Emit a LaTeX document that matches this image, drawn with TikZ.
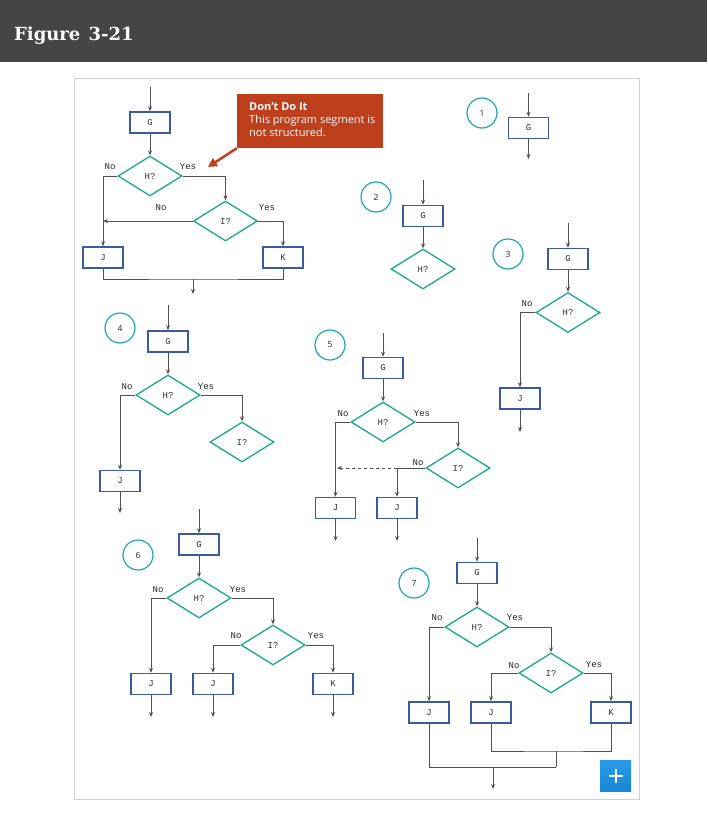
\documentclass[tikz,border=0pt]{standalone}
\usepackage{fontspec}
\setmainfont{Open Sans}
\newfontfamily\monof{Liberation Mono}
\newfontfamily\titlef{DejaVu Serif}
\usetikzlibrary{shapes.geometric,arrows.meta}
\definecolor{hdr}{HTML}{454545}
\definecolor{boxc}{HTML}{3C5AA0}
\definecolor{dia}{HTML}{19A98A}
\definecolor{circ}{HTML}{1FA3B8}
\definecolor{callc}{HTML}{BE3F1C}
\definecolor{linec}{HTML}{505050}
\definecolor{panel}{HTML}{D0D0D0}
\definecolor{plusc}{HTML}{1786D6}
\definecolor{plustop}{HTML}{2A9BE8}
\begin{document}
\begin{tikzpicture}[x=1pt,y=-1pt,
 proc/.style={draw=boxc,line width=1.5pt,fill=white,minimum width=40pt,minimum height=21pt,inner sep=0pt,font=\monof\fontsize{9}{9}\selectfont,text=black!80},
 dec/.style={diamond,draw=dia,line width=1.3pt,aspect=1.6,minimum width=64pt,minimum height=40pt,inner sep=0pt,font=\monof\fontsize{9}{9}\selectfont,text=black!80},
 num/.style={circle,draw=circ,line width=1.2pt,minimum size=30pt,inner sep=0pt,font=\fontsize{8.5}{8.5}\selectfont,text=black!85},
 conn/.style={draw=linec,line width=0.9pt},
 arr/.style={conn,-{Stealth[length=5pt,width=4pt]}},
 lbl/.style={font=\monof\fontsize{9}{9}\selectfont,text=black!85,inner sep=0pt},
]
\useasboundingbox (0,0) rectangle (707,814);
\fill[white] (0,0) rectangle (707,814);
\fill[hdr] (0,0) rectangle (707,62);
\node[anchor=base west,text=white,inner sep=0pt,font=\titlef\bfseries\fontsize{18}{18}\selectfont] (title) at (14,40) {Figure\hspace{0.45em}3-21};
\draw[panel,fill=white] (74,78) rectangle (639,799);

% ---------- segment "Don't do it"
\coordinate (a0) at (150,87);
\node[proc] (ag) at (150,122.5) {G};
\node[dec] (ah) at (150,176) {H?};
\node[dec] (ai) at (225.5,221) {I?};
\node[proc] (aj) at (103,257.5) {J};
\node[proc] (ak) at (283,257.5) {K};
\coordinate (am) at (193,279);
\coordinate (ae) at (193,294);
\draw[arr] (a0) -- (ag);
\draw[arr] (ag) -- (ah);
\draw[arr] (ah.west) -| (aj.north);
\draw[arr] (ah.east) -| (ai.north);
\draw[arr] (ai.west) -- (ai.west -| aj.north);
\draw[arr] (ai.east) -| (ak.north);
\draw[conn] (aj.south) |- (am) -| (ak.south);
\draw[arr] (am) -- (ae);
\node[lbl] (al1) at (110,167) {No};
\node[lbl] (al2) at (188,167) {Yes};
\node[lbl] (al3) at (161,208) {No};
\node[lbl] (al4) at (267,208) {Yes};

% callout
\coordinate (tip) at (208,167);
\node[fill=callc,minimum width=146pt,minimum height=54pt,inner sep=0pt] (call) at (310,121) {};
\draw[callc,line width=2.5pt,-{Triangle[length=9pt,width=9pt]}] (call.south west) -- (tip);
\node[anchor=north west,text=white,align=left,inner sep=0pt,font=\fontsize{11}{13}\selectfont] (callt) at (249,102) {\textbf{Don’t Do It}\\This program segment is\\not structured.};

% ---------- 1
\node[num] (n1) at (482,113) {1};
\coordinate (b0) at (528.5,93);
\node[proc] (bg) at (528.5,128) {G};
\coordinate (b1) at (528.5,159);
\draw[arr] (b0) -- (bg);
\draw[arr] (bg) -- (b1);

% ---------- 2
\node[num] (n2) at (376,197) {2};
\coordinate (c0) at (423,180);
\node[proc] (cg) at (423,216) {G};
\node[dec] (ch) at (423,269) {H?};
\draw[arr] (c0) -- (cg);
\draw[arr] (cg) -- (ch);

% ---------- 3
\node[num] (n3) at (508,254) {3};
\coordinate (d0) at (568,223);
\node[proc] (dg) at (568,259) {G};
\node[dec] (dh) at (568,312.5) {H?};
\node[proc] (dj) at (520,398.5) {J};
\coordinate (d1) at (520,432);
\draw[arr] (d0) -- (dg);
\draw[arr] (dg) -- (dh);
\draw[arr] (dh.west) -| (dj.north);
\draw[arr] (dj) -- (d1);
\node[lbl] (dl1) at (527,304) {No};

% ---------- 4
\node[num] (n4) at (120,328) {4};
\coordinate (e0) at (168,305);
\node[proc] (eg) at (168,341.5) {G};
\node[dec] (eh) at (168,395) {H?};
\node[dec] (ei) at (242,442) {I?};
\node[proc] (ej) at (120,481) {J};
\coordinate (e1) at (120,513);
\draw[arr] (e0) -- (eg);
\draw[arr] (eg) -- (eh);
\draw[arr] (eh.west) -| (ej.north);
\draw[arr] (eh.east) -| (ei.north);
\draw[arr] (ej) -- (e1);
\node[lbl] (el1) at (127,387) {No};
\node[lbl] (el2) at (206,387) {Yes};

% ---------- 5
\node[num] (n5) at (330,345) {5};
\coordinate (f0) at (383,333);
\node[proc] (fg) at (383,368) {G};
\node[dec] (fh) at (383,422) {H?};
\node[dec] (fi) at (458,468) {I?};
\node[proc] (fj1) at (335.5,508) {J};
\node[proc] (fj2) at (397,508) {J};
\coordinate (f1) at (335.5,541);
\coordinate (f2) at (397,541);
\coordinate (fk) at (397,468);
\draw[arr] (f0) -- (fg);
\draw[arr] (fg) -- (fh);
\draw[arr] (fh.west) -| (fj1.north);
\draw[arr] (fh.east) -| (fi.north);
\draw[conn] (fi.west) -- (fk);
\draw[arr] (fk) -- (fj2.north);
\draw[arr,dashed] (fk) -- (337,468);
\draw[arr] (fj1) -- (f1);
\draw[arr] (fj2) -- (f2);
\node[lbl] (fl1) at (343,414) {No};
\node[lbl] (fl2) at (422,414) {Yes};
\node[lbl] (fl3) at (418,463) {No};

% ---------- 6
\node[num] (n6) at (138,555) {6};
\coordinate (g0) at (199,509);
\node[proc] (gg) at (199,544.5) {G};
\node[dec] (gh) at (199,598) {H?};
\node[dec] (gi) at (273,645) {I?};
\node[proc] (gj1) at (151,684) {J};
\node[proc] (gj2) at (213,684) {J};
\node[proc] (gk) at (333,684) {K};
\coordinate (g1) at (151,717);
\coordinate (g2) at (213,717);
\coordinate (g3) at (333,717);
\draw[arr] (g0) -- (gg);
\draw[arr] (gg) -- (gh);
\draw[arr] (gh.west) -| (gj1.north);
\draw[arr] (gh.east) -| (gi.north);
\draw[arr] (gi.west) -| (gj2.north);
\draw[arr] (gi.east) -| (gk.north);
\draw[arr] (gj1) -- (g1);
\draw[arr] (gj2) -- (g2);
\draw[arr] (gk) -- (g3);
\node[lbl] (gl1) at (158,590) {No};
\node[lbl] (gl2) at (238,590) {Yes};
\node[lbl] (gl3) at (236,636) {No};
\node[lbl] (gl4) at (316,636) {Yes};

% ---------- 7
\node[num] (n7) at (414,583) {7};
\coordinate (h0) at (477,538);
\node[proc] (hg) at (477,573) {G};
\node[dec] (hh) at (477,627) {H?};
\node[dec] (hi) at (551,673) {I?};
\node[proc] (hj1) at (429,712.5) {J};
\node[proc] (hj2) at (491,712.5) {J};
\node[proc] (hk) at (611,712.5) {K};
\coordinate (hm1) at (556,751);
\coordinate (hm2) at (556,767);
\coordinate (hm3) at (493,767);
\coordinate (h1) at (493,789);
\draw[arr] (h0) -- (hg);
\draw[arr] (hg) -- (hh);
\draw[arr] (hh.west) -| (hj1.north);
\draw[arr] (hh.east) -| (hi.north);
\draw[arr] (hi.west) -| (hj2.north);
\draw[arr] (hi.east) -| (hk.north);
\draw[conn] (hj2.south) |- (hm1) -| (hk.south);
\draw[conn] (hm1) -- (hm2);
\draw[conn] (hj1.south) |- (hm2);
\draw[arr] (hm3) -- (h1);
\node[lbl] (hl1) at (437,618) {No};
\node[lbl] (hl2) at (515,618) {Yes};
\node[lbl] (hl3) at (514,666) {No};
\node[lbl] (hl4) at (594,665) {Yes};

% plus button
\node[top color=plustop,bottom color=plusc,minimum size=31pt,inner sep=0pt] (plus) at (615.5,775.5) {};
\draw[white,line width=2pt] ([xshift=-7pt]plus.center) -- ([xshift=7pt]plus.center);
\draw[white,line width=2pt] ([yshift=-7pt]plus.center) -- ([yshift=7pt]plus.center);
\end{tikzpicture}
\end{document}
